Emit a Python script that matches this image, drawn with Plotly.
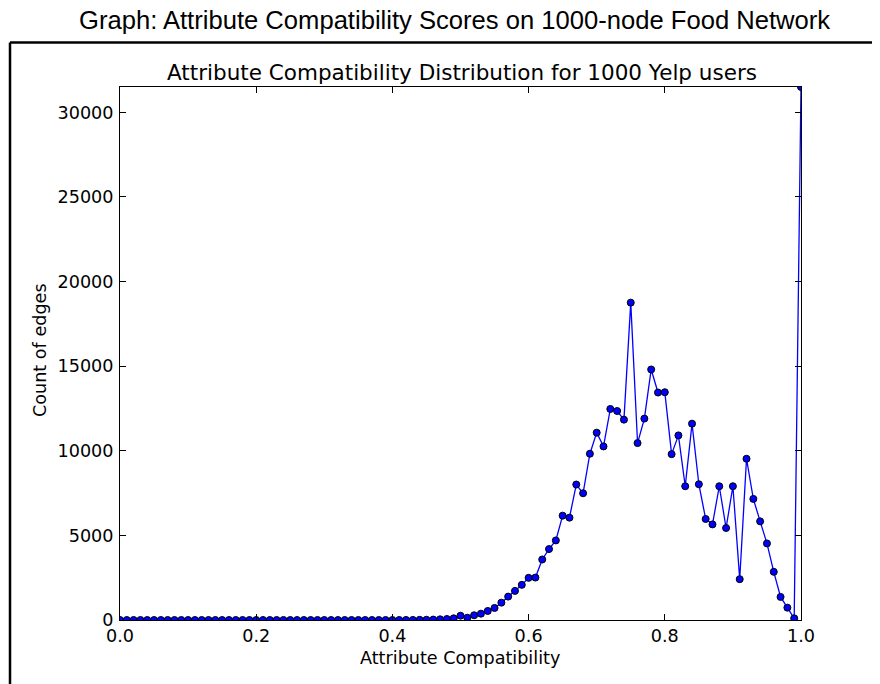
import plotly.graph_objects as go

# ---- data ----
compat = [round(i * 0.01, 2) for i in range(101)]
counts = (
    [0] * 41
    + [2, 3, 5, 10, 15, 25, 40, 60, 100]            # 0.41 .. 0.49
    + [255, 136, 279, 374, 534, 712, 1026, 1382, 1720, 2076]   # 0.50 .. 0.59
    + [2491, 2508, 3576, 4192, 4703, 6167, 6049, 8006, 7490, 9826]  # 0.60 .. 0.69
    + [11071, 10259, 12471, 12352, 11842, 18756, 10455, 11902, 14807, 13443]  # 0.70 .. 0.79
    + [13461, 9802, 10911, 7905, 11605, 8023, 5971, 5651, 7905, 5438]  # 0.80 .. 0.89
    + [7905, 2413, 9530, 7157, 5829, 4525, 2846, 1364, 729, 100]  # 0.90 .. 0.99
    + [31500]  # 1.00
)
x_ticks = [0.0, 0.2, 0.4, 0.6, 0.8, 1.0]
y_ticks = [0, 5000, 10000, 15000, 20000, 25000, 30000]

outer_title = "Graph: Attribute Compatibility Scores on 1000-node Food Network"
inner_title = "Attribute Compatibility Distribution for 1000 Yelp users"
x_label = "Attribute Compatibility"
y_label = "Count of edges"

# ---- layout constants (page body has an 8px margin) ----
OFF = 8
W, H = 880 - OFF, 684 - OFF
ML, MT = 120 - OFF, 87 - OFF
MR = W - (801 - OFF)
MB = H - (620 - OFF)
PW = W - ML - MR
PH = H - MT - MB
FONT = "DejaVu Sans"


def px_to_paper_x(px):
    return (px - OFF - ML) / PW


def px_to_paper_y(py):
    return (H - MB - (py - OFF)) / PH


fig = go.Figure()
fig.add_trace(go.Scatter(
    x=compat, y=counts, mode="lines+markers",
    line=dict(color="#0000ff", width=1.3),
    marker=dict(color="#0000ff", size=7, line=dict(color="black", width=1)),
    showlegend=False,
))

axis_common = dict(
    showline=True, linecolor="black", linewidth=1, mirror="ticks",
    ticks="inside", ticklen=6, tickwidth=1, tickcolor="black",
    showgrid=False, zeroline=False,
    tickfont=dict(family=FONT, size=17.6, color="black"),
)

fig.update_xaxes(range=[0, 1], tickvals=x_ticks, tickformat=".1f", **axis_common)
fig.update_yaxes(range=[0, max(counts)], tickvals=y_ticks, tickformat="d",
                 ticklabelstandoff=2, **axis_common)

annotations = [
    dict(text=outer_title, x=px_to_paper_x(454), y=px_to_paper_y(20), xref="paper", yref="paper",
         showarrow=False, xanchor="center", yanchor="middle",
         font=dict(family="Liberation Sans", size=25.6, color="black")),
    dict(text=inner_title, x=px_to_paper_x(461.5), y=px_to_paper_y(72), xref="paper", yref="paper",
         showarrow=False, xanchor="center", yanchor="middle",
         font=dict(family=FONT, size=21.5, color="black")),
    dict(text=x_label, x=px_to_paper_x(460), y=px_to_paper_y(658), xref="paper", yref="paper",
         showarrow=False, xanchor="center", yanchor="middle",
         font=dict(family=FONT, size=17.6, color="black")),
    dict(text=y_label, x=px_to_paper_x(40), y=px_to_paper_y(350), xref="paper", yref="paper",
         showarrow=False, xanchor="center", yanchor="middle", textangle=-90,
         font=dict(family=FONT, size=17.6, color="black")),
]

border_left = px_to_paper_x(10)
border_top = px_to_paper_y(42.5)
shapes = [
    dict(type="line", xref="paper", yref="paper", x0=border_left, x1=border_left,
         y0=border_top, y1=px_to_paper_y(H + 40), line=dict(color="black", width=2.5)),
    dict(type="line", xref="paper", yref="paper", x0=border_left, x1=px_to_paper_x(W + 40),
         y0=border_top, y1=border_top, line=dict(color="black", width=2.5)),
]

fig.update_layout(
    width=W, height=H,
    margin=dict(l=ML, r=MR, t=MT, b=MB),
    paper_bgcolor="white", plot_bgcolor="white",
    annotations=annotations, shapes=shapes,
)

fig.write_html("out.html")
